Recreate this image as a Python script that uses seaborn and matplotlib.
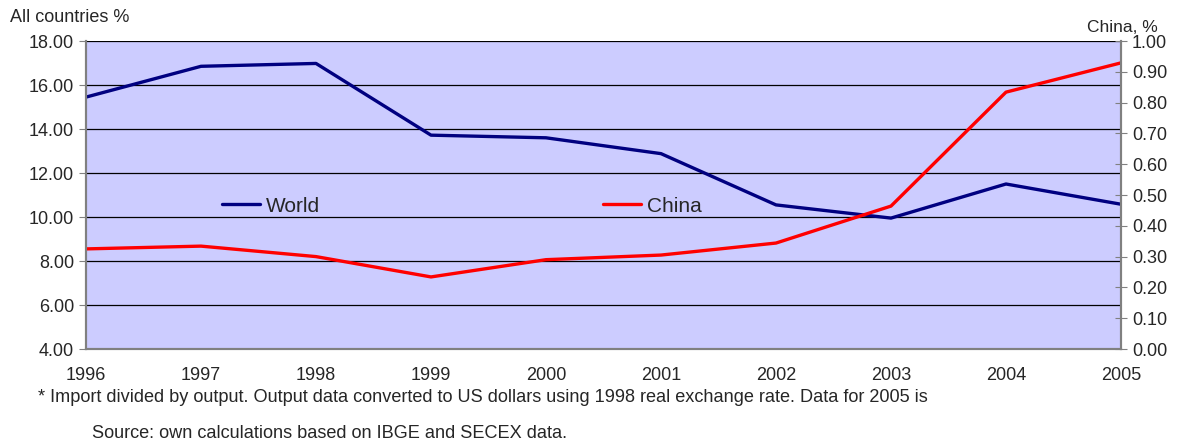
import pandas as pd
import matplotlib
matplotlib.use("Agg")
import matplotlib.pyplot as plt
import seaborn as sns

# values
years = [1996, 1997, 1998, 1999, 2000, 2001, 2002, 2003, 2004, 2005]
world = [15.45, 16.85, 16.98, 13.72, 13.60, 12.88, 10.55, 9.95, 11.50, 10.58]
china = [0.325, 0.334, 0.300, 0.234, 0.290, 0.305, 0.344, 0.464, 0.834, 0.929]
left_ticks = [4, 6, 8, 10, 12, 14, 16, 18]
right_ticks = [0.0, 0.1, 0.2, 0.3, 0.4, 0.5, 0.6, 0.7, 0.8, 0.9, 1.0]

df = pd.DataFrame({"year": years, "World": world, "China": china})

sns.set_style("white")
plt.rcParams["font.family"] = ["Liberation Sans", "DejaVu Sans"]
fs = 13

fig = plt.figure(figsize=(11.83, 4.43), dpi=100)
ax = fig.add_axes([86 / 1183, 1 - 349 / 443, (1121 - 86) / 1183, (349 - 41) / 443])
ax.set_facecolor("#ccccff")

sns.lineplot(data=df, x="year", y="World", ax=ax, color="#000080", linewidth=2.4, label="World", legend=False)
ax.set_xlim(1996, 2005)
ax.set_ylim(4, 18)
ax.set_yticks(left_ticks)
ax.set_yticklabels([f"{t:.2f}" for t in left_ticks])
ax.set_xticks(years)
ax.grid(axis="y", color="black", linewidth=0.9)
ax.set_xlabel("")
ax.set_ylabel("")
ax.tick_params(axis="both", direction="out", length=5, color="#808080", labelsize=fs)
ax.tick_params(axis="x", pad=8)

ax2 = ax.twinx()
sns.lineplot(data=df, x="year", y="China", ax=ax2, color="#ff0000", linewidth=2.4, label="China", legend=False)
ax2.set_ylim(0, 1)
ax2.set_yticks(right_ticks)
ax2.set_yticklabels([f"{t:.2f}" for t in right_ticks])
ax2.set_ylabel("")
ax2.tick_params(axis="y", direction="inout", length=9, color="#808080", labelsize=fs)

for a in (ax, ax2):
    for side in ("left", "bottom", "right"):
        a.spines[side].set_color("#808080")
        a.spines[side].set_linewidth(1.5)
    a.spines["top"].set_visible(False)

h1, l1 = ax.get_legend_handles_labels()
h2, l2 = ax2.get_legend_handles_labels()
ax2.legend(h1 + h2, l1 + l2, ncol=2, frameon=False, fontsize=15,
           handlelength=1.8, handletextpad=0.3, columnspacing=13.6,
           borderpad=0, borderaxespad=0,
           loc="center left", bbox_to_anchor=((222 - 86) / 1035, (349 - 206) / 308))

fig.text(10 / 1183, 1 - 18 / 443, "All countries %", fontsize=fs, va="center")
fig.text(1087 / 1183, 1 - 28 / 443, "China, %", fontsize=12.5, va="center")
fig.text(38 / 1183, 1 - 398 / 443, "* Import divided by output. Output data converted to US dollars using 1998 real exchange rate. Data for 2005 is",
         fontsize=13.1, va="center")
fig.text(92 / 1183, 1 - 433 / 443, "Source: own calculations based on IBGE and SECEX data.",
         fontsize=13.1, va="center")

fig.savefig("out.png", dpi=100, facecolor="white")
